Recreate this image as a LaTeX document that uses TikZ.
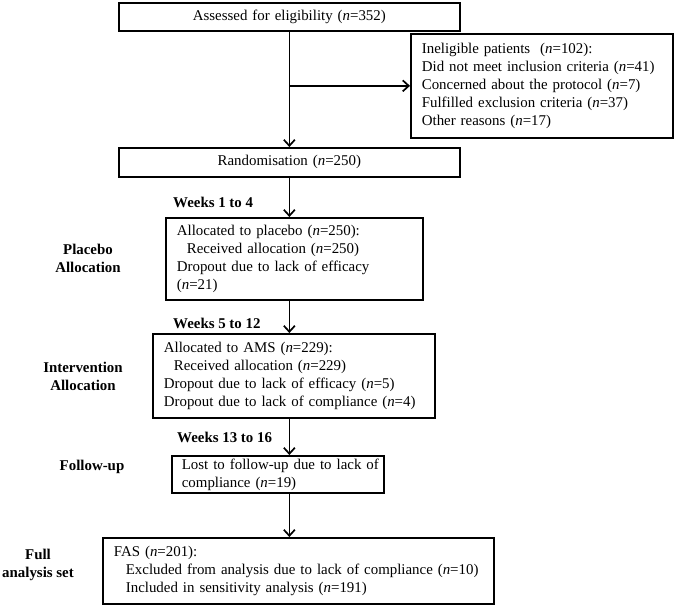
\documentclass[tikz,border=0pt]{standalone}
\usepackage{fontspec}
\setmainfont{Liberation Serif}
\usetikzlibrary{arrows.meta}

\newcommand{\ncount}[1]{(\textit{n}=#1)}
\newcommand{\boxfont}{\fontsize{14.9}{18}\selectfont}

\tikzset{
    flowbox/.style={draw, line width=1.7pt, anchor=north west, inner xsep=11pt, inner ysep=2pt, align=left, font=\boxfont},
    stagelabel/.style={align=center, inner sep=0pt, font=\boxfont\bfseries},
    weekslabel/.style={anchor=west, inner sep=0pt, font=\boxfont\bfseries},
    flowarrow/.style={line width=1.7pt, -{Straight Barb[length=6pt,width=11pt,line width=1.7pt]}}
}

\begin{document}
\begin{tikzpicture}[x=1pt, y=-1pt]

    \useasboundingbox (0,0) rectangle (675,605);

    % Cajas del diagrama de flujo
    \node[flowbox, text width=319pt, minimum height=28pt, align=center] (assess) at (118,2)
        {Assessed for eligibility \ncount{352}};
    \node[flowbox, text width=240pt, minimum height=104pt] (inelig) at (410,33)
        {Ineligible patients \ \ncount{102}:\\
         Did not meet inclusion criteria \ncount{41}\\
         Concerned about the protocol \ncount{7}\\
         Fulfilled exclusion criteria \ncount{37}\\
         Other reasons \ncount{17}};
    \node[flowbox, text width=319pt, minimum height=29pt, align=center] (random) at (118,147)
        {Randomisation \ncount{250}};
    \node[flowbox, text width=235pt, minimum height=82pt] (placebo) at (165,217)
        {Allocated to placebo \ncount{250}:\\
         \hspace*{10pt}Received allocation \ncount{250}\\
         Dropout due to lack of efficacy\\
         \ncount{21}};
    \node[flowbox, text width=260pt, minimum height=84pt] (interv) at (152,333)
        {Allocated to AMS \ncount{229}:\\
         \hspace*{10pt}Received allocation \ncount{229}\\
         Dropout due to lack of efficacy \ncount{5}\\
         \mbox{Dropout due to lack of compliance \ncount{4}}};
    \node[flowbox, inner xsep=10pt, text width=192pt, minimum height=37pt] (follow) at (171,455)
        {\mbox{Lost to follow-up due to lack of}\\
         compliance \ncount{19}};
    \node[flowbox, text width=369pt, minimum height=66pt] (fas) at (102,537)
        {FAS \ncount{201}:\\
         \mbox{\hspace*{12pt}Excluded from analysis due to lack of compliance \ncount{10}}\\
         \hspace*{12pt}Included in sensitivity analysis \ncount{191}};

    % Etiquetas de las fases
    \node[stagelabel] (placebolabel) at (88,258) {Placebo\\Allocation};
    \node[stagelabel] (intervlabel) at (83,376) {Intervention\\Allocation};
    \node[stagelabel] (followlabel) at (92,467) {Follow-up};
    \node[stagelabel] (fulllabel) at (38,565) {Full\\analysis set};

    \node[weekslabel] (weeksA) at (173,202) {Weeks 1 to 4};
    \node[weekslabel] (weeksB) at (173,323) {Weeks 5 to 12};
    \node[weekslabel] (weeksC) at (177,437) {Weeks 13 to 16};

    % Flechas
    \coordinate (spine) at (assess.south);
    \draw[flowarrow] (assess.south) -- (random.north);
    \draw[flowarrow] (spine |- inelig.west) -- (inelig.west);
    \draw[flowarrow] (random.south) -- (spine |- placebo.north);
    \draw[flowarrow] (spine |- placebo.south) -- (spine |- interv.north);
    \draw[flowarrow] (spine |- interv.south) -- (spine |- follow.north);
    \draw[flowarrow] (spine |- follow.south) -- (spine |- fas.north);

\end{tikzpicture}
\end{document}
